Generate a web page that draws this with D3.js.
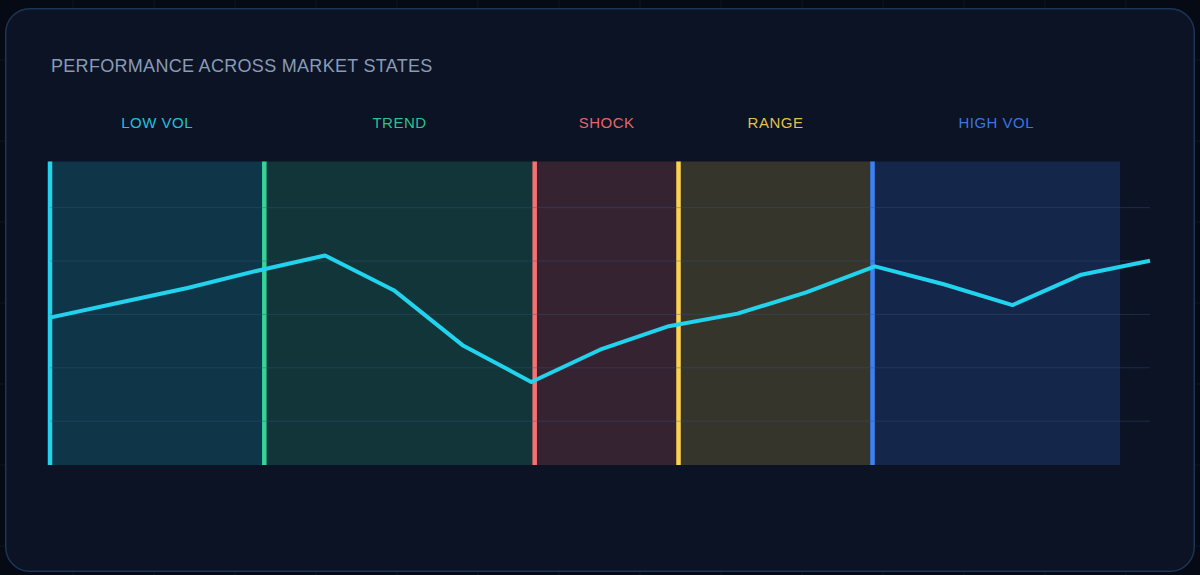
<!DOCTYPE html>
<html>
<head>
<meta charset="utf-8">
<script src="https://cdn.jsdelivr.net/npm/d3@7"></script>
<style>
  html, body { margin: 0; padding: 0; background: #050a15; }
  svg { display: block; }
  text { font-family: "Liberation Sans", Arial, Helvetica, sans-serif; }
</style>
</head>
<body>
<svg id="chart" width="1200" height="575"></svg>
<script>
// ---------- data ----------
const title = "PERFORMANCE ACROSS MARKET STATES";
const regimeNames  = ["LOW VOL", "TREND", "SHOCK", "RANGE", "HIGH VOL"];
const regimeStarts = [0, 3.117, 7.05, 9.142, 11.964];
const regimeEnd    = 15.564;
const regimeColors = ["#22d3ee", "#34d399", "#f87171", "#fcd34d", "#3b82f6"];
const stepIndex    = [0, 1, 2, 3, 4, 5, 6, 7, 8, 9, 10, 11, 12, 13, 14, 15, 16];
const performance  = [58.6, 64.2, 69.7, 76.1, 81.9, 68.9, 48.3, 34.5, 46.6, 55.4, 60.1, 68.1, 77.8, 71.1, 63.3, 74.7, 79.9];
const gridTicks    = [20, 40, 60, 80, 100];

// ---------- layout ----------
const W = 1200, H = 575;
const plot = { left: 50, right: 1150, top: 161.5, bottom: 465 };

const svg = d3.select("#chart");

// page background grid
const bg = svg.append("g");
bg.append("rect").attr("width", W).attr("height", H).attr("fill", "#050a15");
bg.selectAll("line.v").data(d3.range(73, W, 81)).join("line")
  .attr("x1", d => d).attr("x2", d => d).attr("y1", 0).attr("y2", H)
  .attr("stroke", "#0d1729").attr("stroke-width", 1);
bg.selectAll("line.h").data(d3.range(60, H, 81)).join("line")
  .attr("y1", d => d).attr("y2", d => d).attr("x1", 0).attr("x2", W)
  .attr("stroke", "#0d1729").attr("stroke-width", 1);

// card
svg.append("rect")
  .attr("x", 5.75).attr("y", 8.75).attr("width", 1188.5).attr("height", 562.5)
  .attr("rx", 24).attr("ry", 24)
  .attr("fill", "#0b1325").attr("stroke", "#1c3556").attr("stroke-width", 1.5);

// title
svg.append("text")
  .attr("x", 51).attr("y", 71.5)
  .attr("font-size", 18).attr("letter-spacing", 0.3)
  .attr("fill", "#8a9bb5")
  .text(title);

// scales
const x = d3.scaleLinear().domain([0, 16]).range([plot.left, plot.right]);
const y = d3.scaleLinear().domain([3.4, 117.1]).range([plot.bottom, plot.top]);

const regimes = regimeNames.map((name, i) => ({
  name,
  start: regimeStarts[i],
  end: i < regimeNames.length - 1 ? regimeStarts[i + 1] : regimeEnd,
  color: regimeColors[i]
}));

// regime backgrounds
svg.append("g").selectAll("rect").data(regimes).join("rect")
  .attr("x", d => x(d.start))
  .attr("y", plot.top)
  .attr("width", d => x(d.end) - x(d.start))
  .attr("height", plot.bottom - plot.top)
  .attr("fill", d => d.color)
  .attr("fill-opacity", 0.18);

// regime boundary lines
svg.append("g").selectAll("line").data(regimes).join("line")
  .attr("x1", d => x(d.start)).attr("x2", d => x(d.start))
  .attr("y1", plot.top).attr("y2", plot.bottom)
  .attr("stroke", d => d.color).attr("stroke-width", 4.5);

// regime labels
svg.append("g").selectAll("text").data(regimes).join("text")
  .attr("x", d => (x(d.start) + x(d.end)) / 2)
  .attr("y", 128)
  .attr("text-anchor", "middle")
  .attr("font-size", 15).attr("letter-spacing", 0.5)
  .attr("fill", d => d.color).attr("fill-opacity", 0.92)
  .text(d => d.name);

// gridlines
const grid = svg.append("g")
  .attr("transform", `translate(${plot.left},0)`)
  .call(d3.axisLeft(y).tickValues(gridTicks).tickSizeInner(-(plot.right - plot.left)).tickSizeOuter(0).tickFormat(""));
grid.select(".domain").remove();
grid.selectAll(".tick line").attr("stroke", "#3a5378").attr("stroke-opacity", 0.4).attr("stroke-width", 1);

// performance line
const line = d3.line().x((d, i) => x(stepIndex[i])).y(d => y(d));
svg.append("path")
  .datum(performance)
  .attr("d", line)
  .attr("fill", "none")
  .attr("stroke", "#22d3ee")
  .attr("stroke-width", 4)
  .attr("stroke-linejoin", "round")
  .attr("stroke-linecap", "butt");
</script>
</body>
</html>
